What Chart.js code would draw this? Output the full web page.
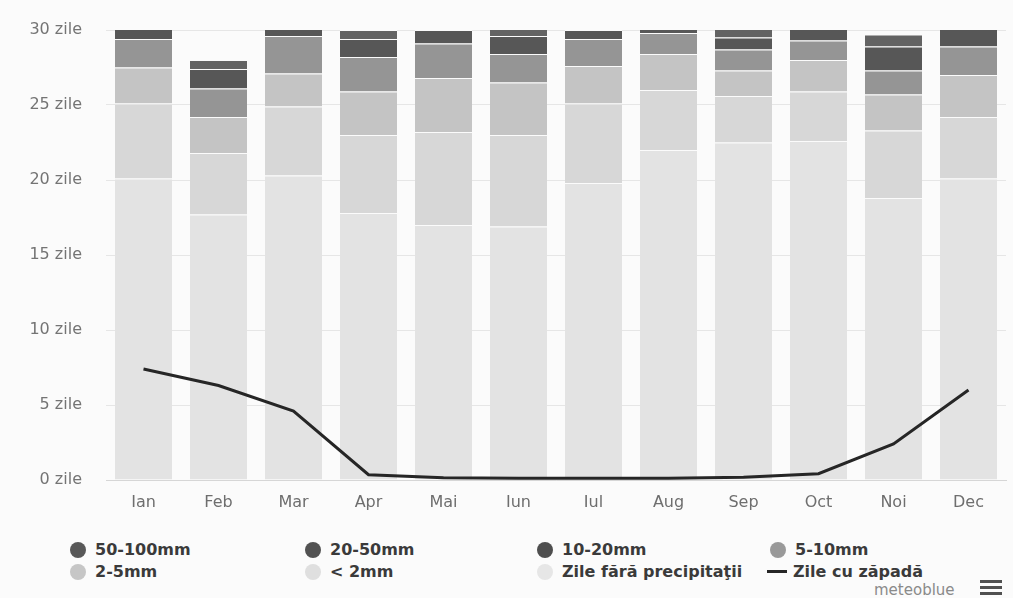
<!DOCTYPE html>
<html>
<head>
<meta charset="utf-8">
<script src="https://cdn.jsdelivr.net/npm/chart.js@4/dist/chart.umd.min.js"></script>
<style>
  body { margin: 0; background: #fbfbfb; }
  #wrap { position: relative; width: 1013px; height: 598px; background: #fbfbfb; font-family: 'DejaVu Sans', sans-serif; }
  #chart { position: absolute; left: 0; top: 0; }
  .item { position: absolute; display: flex; align-items: center; font-size: 16px; font-weight: bold; color: #3a3a3a; white-space: nowrap; }
  .dot { width: 16px; height: 16px; border-radius: 50%; margin-right: 9px; }
  .dash { width: 20px; height: 3px; background: #262626; margin-right: 6px; }
  #credit { position: absolute; left: 874px; top: 581px; font-size: 15px; color: #8a8a8a; }
  #menu { position: absolute; left: 980px; top: 580px; width: 22px; }
  #menu div { height: 3px; background: #505050; margin-bottom: 3px; }
</style>
</head>
<body>
<div id="wrap">
  <canvas id="chart" width="1013" height="520"></canvas>
  <div id="legend"></div>
  <div id="credit">meteoblue</div>
  <div id="menu"><div></div><div></div><div></div></div>
</div>
<script>
const months = ['Ian', 'Feb', 'Mar', 'Apr', 'Mai', 'Iun', 'Iul', 'Aug', 'Sep', 'Oct', 'Noi', 'Dec'];

// days per month
const dryDays  = [20.1, 17.7, 20.3, 17.8, 17.0, 16.9, 19.8, 22.0, 22.5, 22.6, 18.8, 20.1];
const under2   = [5.0, 4.1, 4.6, 5.2, 6.2, 6.1, 5.3, 4.0, 3.1, 3.3, 4.5, 4.1];
const mm2to5   = [2.4, 2.4, 2.2, 2.9, 3.6, 3.5, 2.5, 2.4, 1.7, 2.1, 2.4, 2.8];
const mm5to10  = [1.9, 1.9, 2.5, 2.3, 2.3, 1.9, 1.8, 1.4, 1.4, 1.3, 1.6, 1.9];
const mm10to20 = [0.7, 1.3, 0.6, 1.2, 0.9, 1.2, 0.6, 0.3, 0.8, 0.8, 1.6, 1.3];
const mm20to50 = [0, 0.6, 0, 0.6, 0, 0.5, 0, 0, 0.6, 0, 0.8, 0];
const mm50to100 = [0, 0, 0, 0, 0, 0, 0, 0, 0, 0, 0, 0];
const snowDays = [7.4, 6.3, 4.6, 0.35, 0.15, 0.12, 0.12, 0.12, 0.18, 0.42, 2.4, 6.0];

const yTicks = [0, 5, 10, 15, 20, 25, 30];

const colors = {
  dry: '#e3e3e3',
  under2: '#d7d7d7',
  mm2to5: '#c4c4c4',
  mm5to10: '#959595',
  mm10to20: '#575757',
  mm20to50: '#636363',
  mm50to100: '#5a5a5a',
  snow: '#262626'
};

function barSet(label, data, color) {
  return {
    label: label,
    data: data,
    backgroundColor: color,
    borderColor: '#fbfbfb',
    borderWidth: { top: 1, right: 0, bottom: 0, left: 0 },
    borderSkipped: false,
    stack: 'rain',
    order: 1
  };
}

const ctx = document.getElementById('chart').getContext('2d');
new Chart(ctx, {
  type: 'bar',
  data: {
    labels: months,
    datasets: [
      barSet('Zile fără precipitaţii', dryDays, colors.dry),
      barSet('< 2mm', under2, colors.under2),
      barSet('2-5mm', mm2to5, colors.mm2to5),
      barSet('5-10mm', mm5to10, colors.mm5to10),
      barSet('10-20mm', mm10to20, colors.mm10to20),
      barSet('20-50mm', mm20to50, colors.mm20to50),
      barSet('50-100mm', mm50to100, colors.mm50to100),
      {
        type: 'line',
        label: 'Zile cu zăpadă',
        data: snowDays,
        borderColor: colors.snow,
        borderWidth: 3,
        pointRadius: 0,
        tension: 0,
        fill: false,
        stack: 'snow',
        order: 0
      }
    ]
  },
  options: {
    responsive: false,
    animation: false,
    events: [],
    layout: { padding: { top: 30, right: 7, left: 0, bottom: 0 } },
    datasets: { bar: { barPercentage: 0.76, categoryPercentage: 1 } },
    plugins: { legend: { display: false }, tooltip: { enabled: false } },
    scales: {
      x: {
        grid: { display: false, drawTicks: false },
        border: { display: true, color: '#d6d6d6' },
        ticks: { color: '#6e6e6e', padding: 13, font: { family: 'DejaVu Sans', size: 16 } },
        afterFit: (scale) => { scale.height = 40; }
      },
      y: {
        stacked: true,
        min: 0,
        max: 30,
        afterBuildTicks: (scale) => { scale.ticks = yTicks.map(v => ({ value: v })); },
        grid: { color: '#e6e6e6', drawTicks: false },
        border: { display: false },
        ticks: {
          color: '#747474',
          padding: 24,
          font: { family: 'DejaVu Sans', size: 16 },
          callback: (v) => v + ' zile'
        },
        afterFit: (scale) => {
          scale.width = 106;
          scale.paddingTop = 0;
          scale.paddingBottom = 0;
        }
      }
    }
  }
});

// legend in the same row-major order as the original
const legendItems = [
  { label: '50-100mm', color: '#585858', left: 70, top: 540 },
  { label: '20-50mm', color: '#525252', left: 305, top: 540 },
  { label: '10-20mm', color: '#4e4e4e', left: 537, top: 540 },
  { label: '5-10mm', color: '#999999', left: 770, top: 540 },
  { label: '2-5mm', color: '#c6c6c6', left: 70, top: 562 },
  { label: '< 2mm', color: '#dfdfdf', left: 305, top: 562 },
  { label: 'Zile fără precipitaţii', color: '#e6e6e6', left: 537, top: 562 },
  { label: 'Zile cu zăpadă', line: true, left: 767, top: 562 }
];
const legend = document.getElementById('legend');
legendItems.forEach(it => {
  const el = document.createElement('div');
  el.className = 'item';
  el.style.left = it.left + 'px';
  el.style.top = it.top + 'px';
  const sym = document.createElement('div');
  if (it.line) {
    sym.className = 'dash';
  } else {
    sym.className = 'dot';
    sym.style.background = it.color;
  }
  el.appendChild(sym);
  const txt = document.createElement('span');
  txt.textContent = it.label;
  el.appendChild(txt);
  legend.appendChild(el);
});
</script>
</body>
</html>
